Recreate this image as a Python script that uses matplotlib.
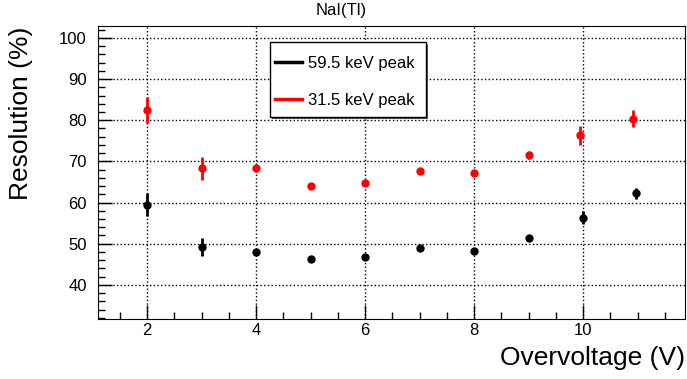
import matplotlib.pyplot as plt
from matplotlib.ticker import MultipleLocator
from matplotlib.lines import Line2D
from matplotlib.patches import Rectangle

plt.rcParams['font.family'] = ['Liberation Sans', 'DejaVu Sans']

# Overvoltage (V)
x_black = [2, 3, 4, 5, 6, 7, 8, 9, 10, 10.97]
x_red = [2, 3, 4, 5, 6, 7, 8, 9, 9.95, 10.92]

# Resolution (%) for the two peaks
res_595 = [59.5, 49.3, 47.9, 46.3, 46.8, 48.9, 48.3, 51.5, 56.3, 62.2]
err_595 = [2.7, 2.2, 0.4, 0.3, 0.3, 0.3, 0.3, 0.5, 1.6, 1.4]
res_315 = [82.5, 68.3, 68.5, 64.1, 64.8, 67.6, 67.1, 71.5, 76.3, 80.4]
err_315 = [3.2, 2.8, 0.4, 0.3, 0.3, 0.3, 0.3, 1.0, 2.3, 2.1]

labels = ['59.5 keV peak', '31.5 keV peak']
colors = ['black', 'red']

W, H = 687, 379
fig = plt.figure(figsize=(W / 100, H / 100), dpi=100)
ax = fig.add_axes([98 / W, 1 - 319 / H, (685 - 98) / W, (319 - 26) / H])

ax.errorbar(x_black, res_595, yerr=err_595, fmt='o', color=colors[0],
            markersize=5, elinewidth=2, capsize=0)
ax.errorbar(x_red, res_315, yerr=err_315, fmt='o', color=colors[1],
            markersize=5, elinewidth=2, capsize=0)

ax.set_xlim(1.1, 11.87)
ax.set_ylim(31.7, 102.9)

ax.xaxis.set_major_locator(MultipleLocator(2))
ax.xaxis.set_minor_locator(MultipleLocator(0.5))
ax.yaxis.set_major_locator(MultipleLocator(10))
ax.yaxis.set_minor_locator(MultipleLocator(2))
ax.tick_params(which='both', direction='in', top=False, right=False,
               labelsize=12, width=1)
ax.tick_params(which='major', length=10)
ax.tick_params(which='minor', length=5)
ax.tick_params(axis='x', pad=3)
ax.tick_params(axis='y', pad=8)

ax.grid(True, which='major', linestyle=':', color='black', linewidth=1)

ax.set_xlabel('Overvoltage (V)', fontsize=19, ha='right', va='center')
ax.xaxis.set_label_coords(1.0, -(358 - 319) / 293)
ax.set_ylabel('Resolution (%)', fontsize=19, ha='right')
ax.yaxis.set_label_coords(-(98 - 33) / 587, (319 - 27) / 293)

fig.text(341 / W, 1 - 11 / H, 'NaI(Tl)', fontsize=12,
         ha='center', va='center')

# legend box with a thin ROOT-like shadow
fig.patches.append(Rectangle((272 / W, 1 - 119 / H), 156 / W, 75 / H,
                             transform=fig.transFigure, facecolor='#555555',
                             edgecolor='none', zorder=5))
fig.patches.append(Rectangle((270 / W, 1 - 117 / H), 156 / W, 75 / H,
                             transform=fig.transFigure, facecolor='white',
                             edgecolor='black', linewidth=1, zorder=6))

handles = [Line2D([], [], color=c, lw=2.5) for c in colors]
leg = ax.legend(handles, labels, loc='upper left',
                bbox_to_anchor=(275 / W, 1 - 56 / H),
                bbox_transform=fig.transFigure, fontsize=12, frameon=False,
                borderpad=0, borderaxespad=0, handlelength=1.6,
                handletextpad=0.36, labelspacing=1.32)
leg.set_zorder(10)
leg.set_figure(fig)
ax.legend_ = None
fig.legends.append(leg)

fig.savefig('out.png', dpi=100)
